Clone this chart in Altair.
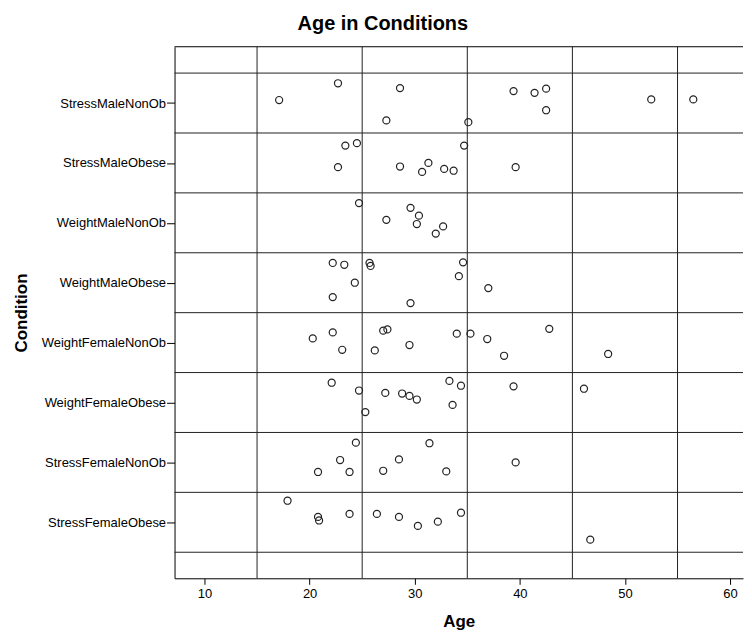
import altair as alt
import pandas as pd

categories = ["StressMaleNonOb", "StressMaleObese", "WeightMaleNonOb", "WeightMaleObese",
              "WeightFemaleNonOb", "WeightFemaleObese", "StressFemaleNonOb", "StressFemaleObese"]

smn_age = [17.1, 22.7, 28.6, 27.3, 35.1, 39.4, 41.4, 42.5, 42.5, 52.5, 56.5]
smn_jit = [-0.05, -0.33, -0.25, 0.29, 0.32, -0.20, -0.17, -0.24, 0.12, -0.06, -0.06]

smo_age = [23.4, 24.5, 34.7, 22.7, 28.6, 30.7, 31.3, 32.8, 33.7, 39.6]
smo_jit = [-0.29, -0.33, -0.29, 0.07, 0.06, 0.15, 0.00, 0.10, 0.13, 0.07]

wmn_age = [24.7, 27.3, 29.6, 30.4, 30.2, 32.7, 32.0]
wmn_jit = [-0.33, -0.05, -0.25, -0.12, 0.02, 0.06, 0.18]

wmo_age = [22.2, 23.3, 25.7, 25.8, 34.6, 24.3, 34.2, 37.0, 22.2, 29.6]
wmo_jit = [-0.33, -0.30, -0.33, -0.28, -0.34, 0.00, -0.11, 0.09, 0.24, 0.34]

wfn_age = [20.3, 22.2, 23.1, 27.0, 27.4, 26.2, 29.5, 34.0, 35.3, 36.9, 38.5, 42.8, 48.4]
wfn_jit = [-0.07, -0.17, 0.12, -0.20, -0.22, 0.13, 0.04, -0.15, -0.15, -0.06, 0.22, -0.23, 0.19]

wfo_age = [22.1, 24.7, 25.3, 27.2, 28.8, 29.5, 30.2, 33.3, 34.4, 33.6, 39.4, 46.1]
wfo_jit = [-0.33, -0.20, 0.16, -0.16, -0.15, -0.11, -0.05, -0.36, -0.28, 0.04, -0.27, -0.23]

sfn_age = [24.4, 31.4, 22.9, 28.5, 20.8, 23.8, 27.0, 33.0, 39.6]
sfn_jit = [-0.33, -0.32, -0.04, -0.05, 0.16, 0.16, 0.14, 0.15, 0.00]

sfo_age = [17.9, 20.8, 20.9, 23.8, 26.4, 28.5, 30.3, 32.2, 34.4, 46.7]
sfo_jit = [-0.36, -0.09, -0.03, -0.14, -0.14, -0.09, 0.06, -0.01, -0.16, 0.29]

x_ticks = [10, 20, 30, 40, 50, 60]
x_grid = [15, 25, 35, 45, 55]

ages = [smn_age, smo_age, wmn_age, wmo_age, wfn_age, wfo_age, sfn_age, sfo_age]
jits = [smn_jit, smo_jit, wmn_jit, wmo_jit, wfn_jit, wfo_jit, sfn_jit, sfo_jit]

rows = []
for i, (cat, a_list, j_list) in enumerate(zip(categories, ages, jits)):
    for a, j in zip(a_list, j_list):
        rows.append({"Condition": cat, "Age": a, "pos": i + 1 + j})
df = pd.DataFrame(rows)

y_ticks = list(range(1, len(categories) + 1))
y_grid = [k + 0.5 for k in range(0, len(categories) + 1)]

W, H = 570, 533
FONT = "Liberation Sans"

x_scale = alt.Scale(domain=[7.15, 61.23], nice=False, zero=False)
y_scale = alt.Scale(domain=[0.06, 8.935], nice=False, zero=False, reverse=True)

label_expr = "[" + ",".join("'" + c + "'" for c in categories) + "][datum.value - 1]"

points = alt.Chart(df).mark_point(
    shape="circle", filled=False, size=50, strokeWidth=1.2, color="#222", opacity=1
).encode(
    x=alt.X("Age:Q", scale=x_scale,
            axis=alt.Axis(values=x_ticks, title="Age", grid=False, tickSize=6, labelPadding=3,
                          titlePadding=13, labelFontSize=13, titleFontSize=17, labelFont=FONT,
                          titleFont=FONT, titleFontWeight="bold", domainColor="#000",
                          tickColor="#000", labelColor="#000", titleColor="#000",
                          domainWidth=1, labelFlush=False)),
    y=alt.Y("pos:Q", scale=y_scale,
            axis=alt.Axis(values=y_ticks, labelExpr=label_expr, title="Condition", grid=False,
                          tickSize=8, labelPadding=1, titlePadding=11, labelFontSize=13,
                          titleFontSize=17, labelFont=FONT, titleFont=FONT,
                          titleFontWeight="bold", domainColor="#000", tickColor="#000",
                          labelColor="#000", titleColor="#000", domainWidth=1,
                          labelFlush=False)),
)

vgrid = alt.Chart(pd.DataFrame({"g": x_grid})).mark_rule(color="#222", strokeWidth=1).encode(
    x=alt.X("g:Q", scale=x_scale)
)
hgrid = alt.Chart(pd.DataFrame({"h": y_grid})).mark_rule(color="#222", strokeWidth=1).encode(
    y=alt.Y("h:Q", scale=y_scale)
)
top_border = alt.Chart(pd.DataFrame({"h": [0]})).mark_rule(color="#000", strokeWidth=1).encode(
    x=alt.value(0), x2=alt.value(W), y=alt.value(0)
)

chart = alt.layer(vgrid, hgrid, top_border, points).properties(
    width=W, height=H,
    title=alt.TitleParams("Age in Conditions", fontSize=20, font=FONT, fontWeight="bold",
                          anchor="middle", frame="bounds", offset=12, dx=5, color="#000"),
    padding={"left": 4, "top": 5, "right": 0, "bottom": 0},
).configure_view(stroke=None)

chart.save("out.html", embed_options={"renderer": "svg", "actions": False})
